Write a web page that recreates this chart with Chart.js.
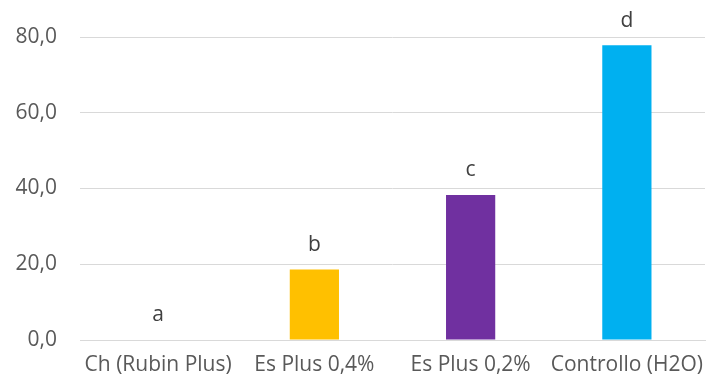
<!DOCTYPE html>
<html>
<head>
<meta charset="utf-8">
<script src="https://cdn.jsdelivr.net/npm/chart.js@4"></script>
<style>
  html, body { margin: 0; padding: 0; background: #fff; }
  #wrap { width: 710px; height: 385px; }
</style>
</head>
<body>
<div id="wrap"><canvas id="barChart"></canvas></div>
<script>
// treatments and measured values
const categories = ["Ch (Rubin Plus)", "Es Plus 0,4%", "Es Plus 0,2%", "Controllo (H2O)"];
const values = [0, 18.6, 38.3, 77.8];
const groupLetters = ["a", "b", "c", "d"];
const barColors = ["#4472C4", "#FFC000", "#7030A0", "#00B0F0"];
const yTicks = [0, 20, 40, 60, 80];

// letters above each bar
const letterPlugin = {
    id: "letters",
    afterDatasetsDraw(chart) {
        const ctx = chart.ctx;
        const meta = chart.getDatasetMeta(0);
        ctx.save();
        ctx.font = "21px 'Open Sans'";
        ctx.fillStyle = "#404040";
        ctx.textAlign = "center";
        ctx.textBaseline = "bottom";
        meta.data.forEach(function (bar, i) {
            ctx.fillText(groupLetters[i], bar.x, bar.y - 14);
        });
        ctx.restore();
    }
};

const barChart = new Chart("barChart", {
    type: "bar",
    data: {
        labels: categories,
        datasets: [{
            data: values,
            backgroundColor: barColors,
            borderWidth: 0,
            barPercentage: 0.63,
            categoryPercentage: 0.5
        }]
    },
    options: {
        responsive: true,
        maintainAspectRatio: false,
        animation: false,
        layout: { padding: { top: 37, right: 5, bottom: 0, left: 0 } },
        plugins: {
            legend: { display: false },
            tooltip: { enabled: false }
        },
        scales: {
            x: {
                grid: { display: false, drawTicks: false },
                border: { color: "#d9d9d9", width: 1 },
                ticks: {
                    color: "#595959",
                    font: { family: "'Open Sans'", size: 21 },
                    padding: 12,
                    maxRotation: 0,
                    autoSkip: false
                },
                afterFit(scale) {
                    scale.height = 45;
                    // let the last label run into the right margin
                    scale.paddingLeft = 0;
                    scale.paddingRight = 0;
                }
            },
            y: {
                min: 0,
                max: 80,
                afterBuildTicks(scale) {
                    scale.ticks = yTicks.map(function (v) { return { value: v }; });
                },
                grid: { color: "#d9d9d9", lineWidth: 1, drawTicks: false },
                border: { display: false },
                ticks: {
                    color: "#595959",
                    font: { family: "'Open Sans'", size: 21 },
                    padding: 23,
                    callback: function (v) { return v.toFixed(1).replace(".", ","); }
                },
                afterFit(scale) { scale.width = 80; }
            }
        }
    },
    plugins: [letterPlugin]
});
</script>
</body>
</html>
